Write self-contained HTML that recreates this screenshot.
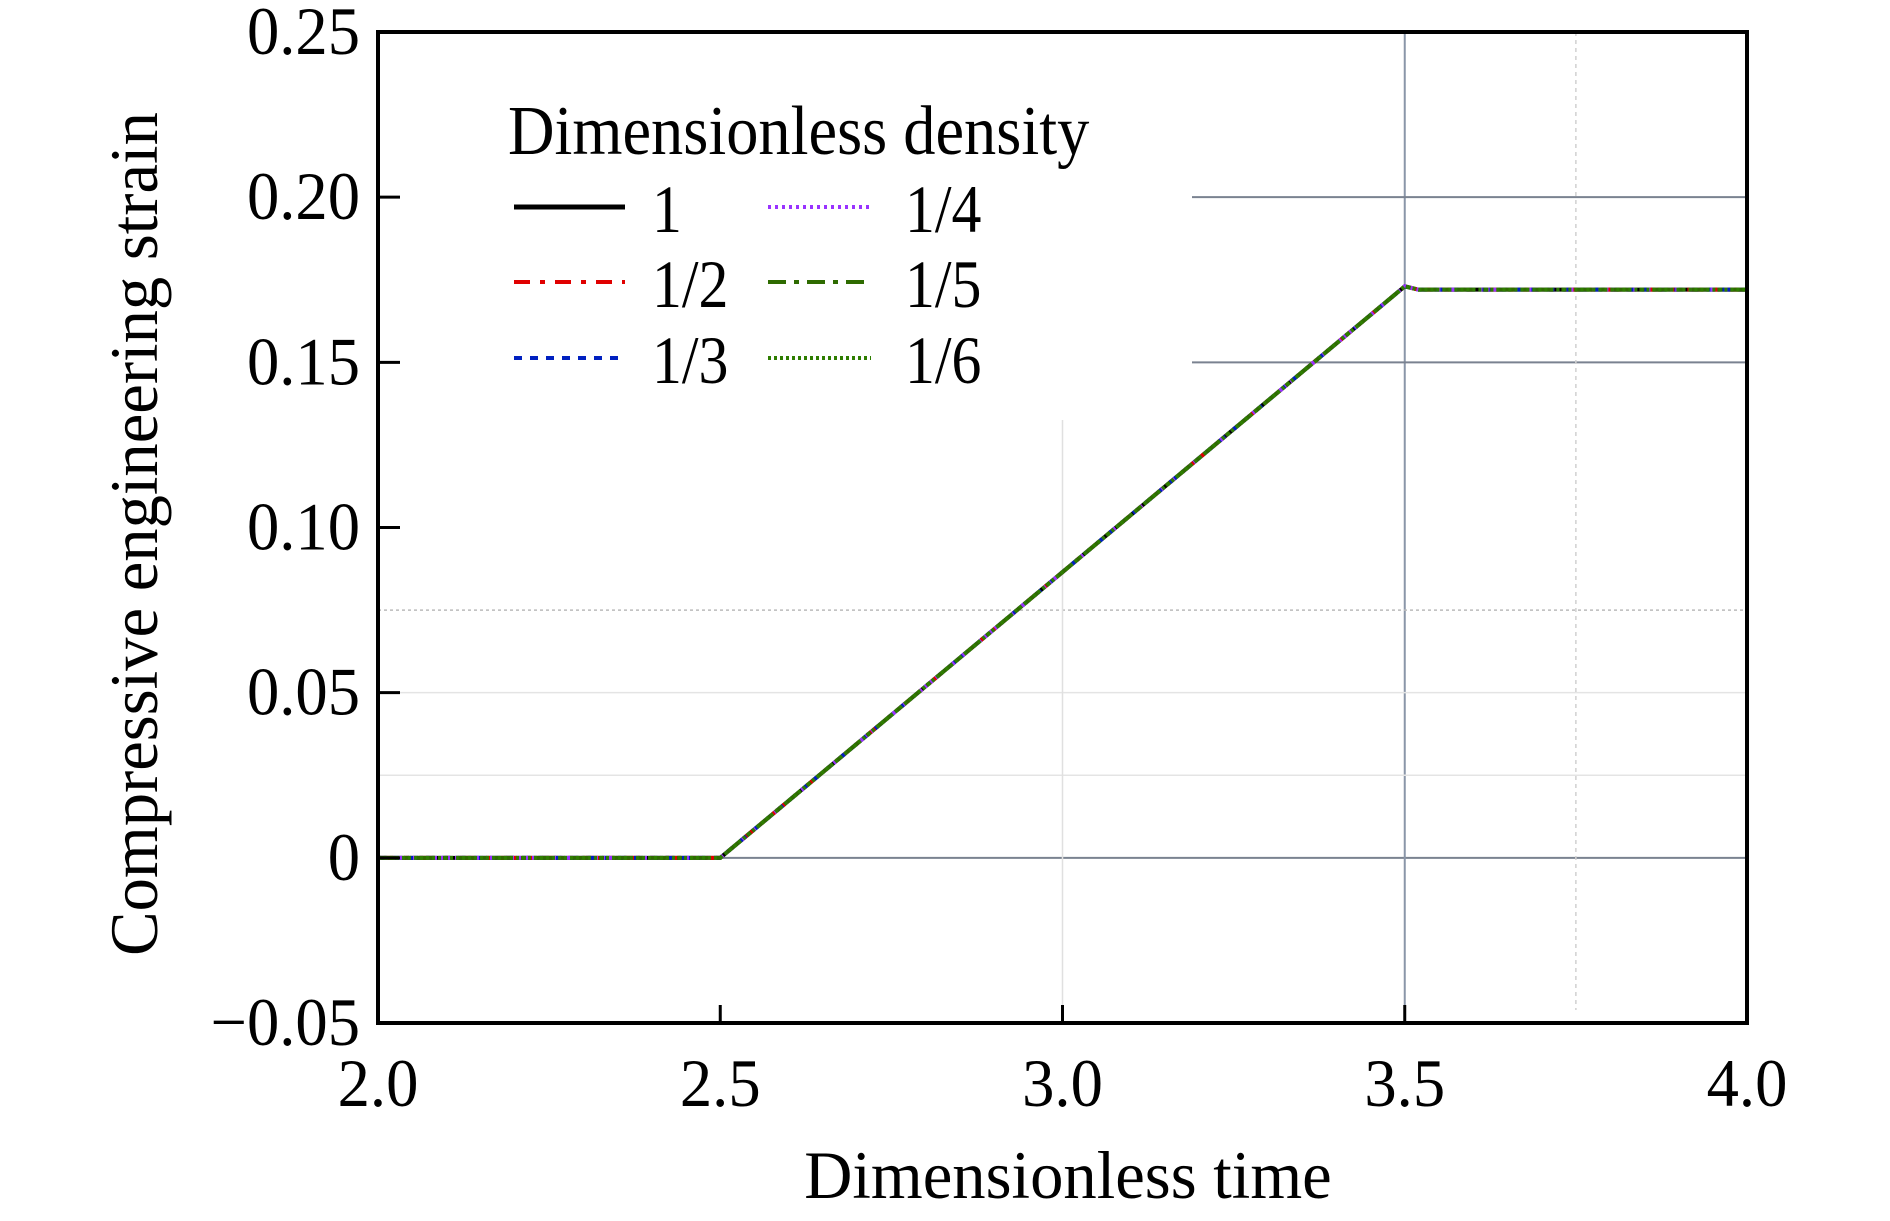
<!DOCTYPE html>
<html><head><meta charset="utf-8"><style>
html,body{margin:0;padding:0;background:#fff;}
svg text{font-family:"Liberation Serif",serif;fill:#000;}
</style></head><body>
<svg width="1890" height="1216" viewBox="0 0 1890 1216" xmlns="http://www.w3.org/2000/svg">
<g id="grid"></g>
<g id="series"></g>
<rect x="378" y="32" width="1369" height="991" fill="none" stroke="#000" stroke-width="4"/>
<g id="ticks"></g>
<text transform="translate(1068,1198) scale(0.98,1)" font-size="68" text-anchor="middle">Dimensionless time</text>
<text transform="translate(157,534) rotate(-90) scale(0.98,1)" font-size="68" text-anchor="middle">Compressive engineering strain</text>
<g id="legend">
<text transform="translate(508,154) scale(0.92,1)" font-size="70">Dimensionless density</text>
</g>
</svg>
<script>
const xTicks=[2.0,2.5,3.0,3.5,4.0];
const xTickLabels=["2.0","2.5","3.0","3.5","4.0"];
const yTicks=[-0.05,0,0.05,0.10,0.15,0.20,0.25];
const yTickLabels=["\u22120.05","0","0.05","0.10","0.15","0.20","0.25"];
const seriesNames=["1","1/2","1/3","1/4","1/5","1/6"];
const timeValues=[2.0,2.5,3.5,3.52,4.0];
const strain1=[0,0,0.173,0.172,0.172];
const strain2=[0,0,0.173,0.172,0.172];
const strain3=[0,0,0.173,0.172,0.172];
const strain4=[0,0,0.173,0.172,0.172];
const strain5=[0,0,0.173,0.172,0.172];
const strain6=[0,0,0.173,0.172,0.172];
const allSeries=[strain1,strain2,strain3,strain4,strain5,strain6];
const colors=["#000","#e00000","#0020c0","#9933ff","#2e6b00","#2e7d00"];
const dashes=["","16,10,5,10","8,8","3,4","18,8,5,8","3,3"];
const NS="http://www.w3.org/2000/svg";
const X0=378,X1=1747,Y0=1023,Y1=32;
function xs(v){return X0+(v-2)/(4-2)*(X1-X0);}
function ys(v){return Y0-(v+0.05)/0.30*(Y0-Y1);}
function el(t,a,p){const e=document.createElementNS(NS,t);for(const k in a)e.setAttribute(k,a[k]);p.appendChild(e);return e;}
const grid=document.getElementById('grid');
let g;
g=el('line',{x1:X0,x2:X1,y1:ys(0),y2:ys(0),stroke:'#7a8290','stroke-width':2},grid);


g=el('line',{x1:xs(3.5),x2:xs(3.5),y1:Y1,y2:Y0,stroke:'#8a96a8','stroke-width':2},grid);


[0.20,0.15].forEach(v=>{
 g=el('line',{x1:1192,x2:X1,y1:ys(v),y2:ys(v),stroke:'#7a8290','stroke-width':2},grid);
 
 
});
[0.05,0.025].forEach(v=>{
 g=el('line',{x1:X0,x2:X1,y1:ys(v),y2:ys(v),stroke:'#e4e4e4','stroke-width':1.5},grid);
 
 
});
g=el('line',{x1:X0,x2:X1,y1:ys(0.075),y2:ys(0.075),stroke:'#bbb','stroke-width':1.5,'stroke-dasharray':'3,3'},grid);


g=el('line',{x1:xs(3.0),x2:xs(3.0),y1:420,y2:Y0,stroke:'#e0e0e0','stroke-width':1.5},grid);


g=el('line',{x1:xs(3.75),x2:xs(3.75),y1:Y1,y2:1010,stroke:'#d0d0d0','stroke-width':1.5,'stroke-dasharray':'4,4'},grid);


const ticks=document.getElementById('ticks');
xTicks.forEach((v,i)=>{
 g=el('line',{x1:xs(v),x2:xs(v),y1:Y0,y2:Y0-18,stroke:'#000','stroke-width':3},ticks);
 
 
 const t=el('text',{transform:'translate('+xs(v)+',1106) scale(0.95,1)','font-size':68,'text-anchor':'middle'},ticks);
 t.textContent=xTickLabels[i];
 
 
});
yTicks.forEach((v,i)=>{
 g=el('line',{x1:X0,x2:X0+22,y1:ys(v),y2:ys(v),stroke:'#000','stroke-width':3},ticks);
 
 
 const t=el('text',{transform:'translate(360,'+(ys(v)+22)+') scale(0.95,1)','font-size':68,'text-anchor':'end'},ticks);
 t.textContent=yTickLabels[i];
 
 
});
const sg=document.getElementById('series');
allSeries.forEach((s,i)=>{
 const pts=timeValues.map((t,j)=>xs(t)+','+ys(s[j])).join(' ');
 const p=el('polyline',{points:pts,fill:'none',stroke:colors[i],'stroke-width':4},sg);
 if(dashes[i])p.setAttribute('stroke-dasharray',dashes[i]);
 
 
});
const lg=document.getElementById('legend');
const rowsY=[207,282,358];
seriesNames.forEach((n,i)=>{
 const col=Math.floor(i/3),row=i%3;
 const lx=col?768:514, lx2=col?871:625, tx=col?905:652;
 const y=rowsY[row];
 const l=el('line',{x1:lx,x2:lx2,y1:y,y2:y,stroke:colors[i],'stroke-width':i==0?5:4},lg);
 if(dashes[i])l.setAttribute('stroke-dasharray',dashes[i]);
 
 
 const t=el('text',{transform:'translate('+tx+','+(y+25)+') scale(0.88,1)','font-size':68},lg);
 t.textContent=n;
 
 
});
</script>
</body></html>
